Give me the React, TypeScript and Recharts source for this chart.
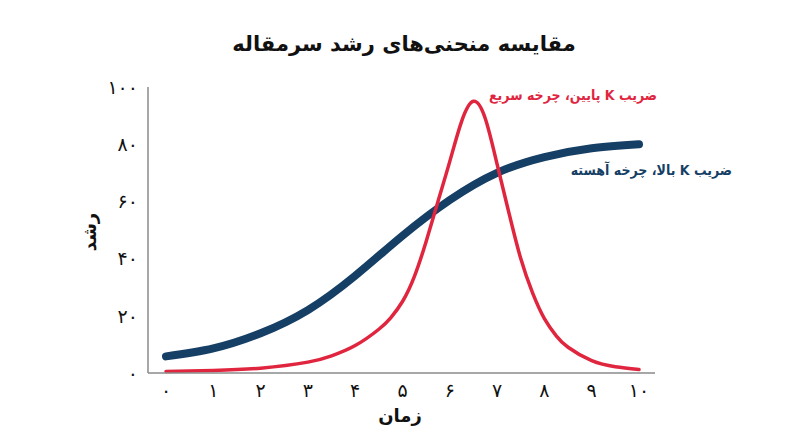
import React from "react";
import { LineChart, Line, XAxis, YAxis } from "recharts";

const xTicks = [0, 1, 2, 3, 4, 5, 6, 7, 8, 9, 10];
const yTicks = [0, 20, 40, 60, 80, 100];

const blueT = [0, 1, 2, 3, 4, 5, 6, 7, 8, 9, 10];
const blueV = [5.8, 8.6, 13.9, 22, 34, 48, 60.5, 70, 75.5, 78.6, 80];

const redT = [0, 1, 2, 3, 3.5, 4, 4.5, 4.75, 5, 5.25, 5.5, 5.75, 6, 6.25, 6.5, 6.75, 7, 7.25, 7.5, 7.75, 8, 8.25, 8.5, 9, 9.5, 10];
const redV = [0.5, 0.9, 1.7, 3.8, 6, 9.6, 15.3, 19.3, 25, 33.7, 46, 60, 74, 88, 95, 89, 73, 56, 40, 28, 19, 13, 9, 4.3, 2.2, 1.2];

const blueData = blueT.map((t, i) => ({ t, v: blueV[i] }));
const redData = redT.map((t, i) => ({ t, v: redV[i] }));

const faDigits = ["۰", "۱", "۲", "۳", "۴", "۵", "۶", "۷", "۸", "۹"];
const toFa = (n: number) => String(n).replace(/\d/g, (d) => faDigits[Number(d)]);

const FONT = "'DejaVu Sans', 'Noto Sans', sans-serif";
const FONT_C = "'DejaVu Sans Condensed', 'DejaVu Sans', sans-serif";
const BLUE = "#163f66";
const RED = "#e0253f";

export default function App() {
  return (
    <div style={{ position: "absolute", left: 0, top: 0, width: 800, height: 447, background: "#fff", fontFamily: FONT }}>
      <LineChart width={800} height={447} margin={{ top: 87, right: 145, bottom: 44, left: 88 }}>
        <XAxis
          type="number"
          dataKey="t"
          domain={[0, 10]}
          ticks={xTicks}
          tickFormatter={toFa}
          padding={{ left: 18, right: 16 }}
          tickLine={false}
          tickMargin={5}
          height={30}
          stroke="#8a8a8a"
          strokeWidth={1.5}
          tick={{ fill: "#111", fontSize: 19, fontFamily: FONT }}
          allowDuplicatedCategory={false}
        />
        <YAxis
          type="number"
          domain={[0, 100]}
          ticks={yTicks}
          tickFormatter={toFa}
          tickLine={false}
          tickMargin={4}
          width={60}
          stroke="#8a8a8a"
          strokeWidth={1.5}
          tick={{ fill: "#111", fontSize: 19, fontFamily: FONT }}
        />
        <Line
          data={blueData}
          dataKey="v"
          type="natural"
          stroke={BLUE}
          strokeWidth={8}
          strokeLinecap="round"
          dot={false}
          activeDot={false}
          isAnimationActive={false}
        />
        <Line
          data={redData}
          dataKey="v"
          type="natural"
          stroke={RED}
          strokeWidth={3.5}
          strokeLinecap="round"
          dot={false}
          activeDot={false}
          isAnimationActive={false}
        />
      </LineChart>
      <div style={{ position: "absolute", left: 0, width: 808, top: 29, textAlign: "center", fontSize: 21, fontWeight: "bold", color: "#111", direction: "rtl", lineHeight: "30px" }}>
        مقایسه منحنی‌های رشد سرمقاله
      </div>
      <div style={{ position: "absolute", right: 800 - 657, top: 84, fontFamily: FONT_C, fontSize: 14, fontWeight: "bold", color: RED, direction: "rtl", whiteSpace: "nowrap", lineHeight: "22px" }}>
        ضریب K پایین، چرخه سریع
      </div>
      <div style={{ position: "absolute", right: 800 - 732, top: 159, fontFamily: FONT_C, fontSize: 14, fontWeight: "bold", color: BLUE, direction: "rtl", whiteSpace: "nowrap", lineHeight: "22px" }}>
        ضریب K بالا، چرخه آهسته
      </div>
      <div style={{ position: "absolute", left: 70, top: 220, width: 40, textAlign: "center", fontSize: 18, fontWeight: "bold", color: "#111", transform: "rotate(-90deg)", lineHeight: "24px" }}>
        رشد
      </div>
      <div style={{ position: "absolute", left: 360, width: 80, top: 403, textAlign: "center", fontSize: 18, fontWeight: "bold", color: "#111", lineHeight: "26px" }}>
        زمان
      </div>
    </div>
  );
}
